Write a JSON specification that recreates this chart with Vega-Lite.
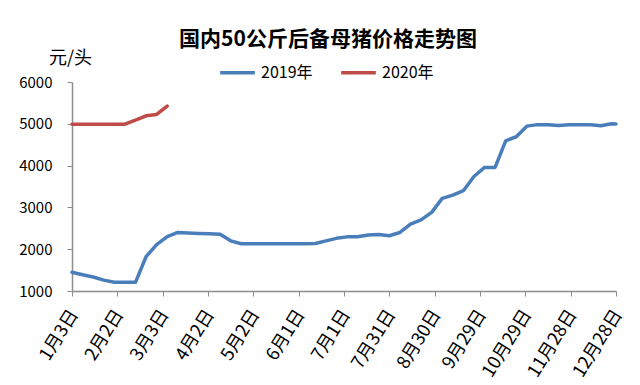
{
  "$schema": "https://vega.github.io/schema/vega-lite/v6.json",
  "width": 544,
  "height": 209,
  "autosize": {"type": "none"},
  "padding": {"left": 72, "top": 82, "right": 24, "bottom": 94},
  "background": "white",
  "title": {
    "text": "国内50公斤后备母猪价格走势图",
    "font": "Noto Sans CJK SC",
    "fontSize": 21,
    "fontWeight": "bold",
    "color": "#000000",
    "anchor": "middle",
    "dx": -16,
    "dy": 15,
    "offset": 14
  },
  "data": {
    "values": [
      {"date": "2020-01-03", "price": 1447, "series": "2019年"},
      {"date": "2020-01-10", "price": 1390, "series": "2019年"},
      {"date": "2020-01-17", "price": 1335, "series": "2019年"},
      {"date": "2020-01-24", "price": 1260, "series": "2019年"},
      {"date": "2020-01-31", "price": 1208, "series": "2019年"},
      {"date": "2020-02-07", "price": 1208, "series": "2019年"},
      {"date": "2020-02-14", "price": 1208, "series": "2019年"},
      {"date": "2020-02-21", "price": 1820, "series": "2019年"},
      {"date": "2020-02-28", "price": 2110, "series": "2019年"},
      {"date": "2020-03-06", "price": 2300, "series": "2019年"},
      {"date": "2020-03-13", "price": 2400, "series": "2019年"},
      {"date": "2020-03-20", "price": 2385, "series": "2019年"},
      {"date": "2020-03-27", "price": 2375, "series": "2019年"},
      {"date": "2020-04-03", "price": 2370, "series": "2019年"},
      {"date": "2020-04-10", "price": 2360, "series": "2019年"},
      {"date": "2020-04-17", "price": 2200, "series": "2019年"},
      {"date": "2020-04-24", "price": 2130, "series": "2019年"},
      {"date": "2020-05-01", "price": 2130, "series": "2019年"},
      {"date": "2020-05-08", "price": 2130, "series": "2019年"},
      {"date": "2020-05-15", "price": 2130, "series": "2019年"},
      {"date": "2020-05-22", "price": 2130, "series": "2019年"},
      {"date": "2020-05-29", "price": 2130, "series": "2019年"},
      {"date": "2020-06-05", "price": 2130, "series": "2019年"},
      {"date": "2020-06-12", "price": 2135, "series": "2019年"},
      {"date": "2020-06-19", "price": 2200, "series": "2019年"},
      {"date": "2020-06-26", "price": 2260, "series": "2019年"},
      {"date": "2020-07-03", "price": 2295, "series": "2019年"},
      {"date": "2020-07-10", "price": 2298, "series": "2019年"},
      {"date": "2020-07-17", "price": 2340, "series": "2019年"},
      {"date": "2020-07-24", "price": 2350, "series": "2019年"},
      {"date": "2020-07-31", "price": 2322, "series": "2019年"},
      {"date": "2020-08-07", "price": 2400, "series": "2019年"},
      {"date": "2020-08-14", "price": 2600, "series": "2019年"},
      {"date": "2020-08-21", "price": 2700, "series": "2019年"},
      {"date": "2020-08-28", "price": 2880, "series": "2019年"},
      {"date": "2020-09-04", "price": 3216, "series": "2019年"},
      {"date": "2020-09-11", "price": 3294, "series": "2019年"},
      {"date": "2020-09-18", "price": 3400, "series": "2019年"},
      {"date": "2020-09-25", "price": 3740, "series": "2019年"},
      {"date": "2020-10-02", "price": 3956, "series": "2019年"},
      {"date": "2020-10-09", "price": 3956, "series": "2019年"},
      {"date": "2020-10-16", "price": 4593, "series": "2019年"},
      {"date": "2020-10-23", "price": 4690, "series": "2019年"},
      {"date": "2020-10-30", "price": 4944, "series": "2019年"},
      {"date": "2020-11-06", "price": 4980, "series": "2019年"},
      {"date": "2020-11-13", "price": 4975, "series": "2019年"},
      {"date": "2020-11-20", "price": 4960, "series": "2019年"},
      {"date": "2020-11-27", "price": 4975, "series": "2019年"},
      {"date": "2020-12-04", "price": 4976, "series": "2019年"},
      {"date": "2020-12-11", "price": 4976, "series": "2019年"},
      {"date": "2020-12-18", "price": 4952, "series": "2019年"},
      {"date": "2020-12-25", "price": 5000, "series": "2019年"},
      {"date": "2020-12-28", "price": 4995, "series": "2019年"},
      {"date": "2020-01-03", "price": 4991, "series": "2020年"},
      {"date": "2020-01-10", "price": 4991, "series": "2020年"},
      {"date": "2020-01-17", "price": 4991, "series": "2020年"},
      {"date": "2020-01-24", "price": 4991, "series": "2020年"},
      {"date": "2020-01-31", "price": 4991, "series": "2020年"},
      {"date": "2020-02-07", "price": 4991, "series": "2020年"},
      {"date": "2020-02-14", "price": 5087, "series": "2020年"},
      {"date": "2020-02-21", "price": 5190, "series": "2020年"},
      {"date": "2020-02-28", "price": 5224, "series": "2020年"},
      {"date": "2020-03-06", "price": 5422, "series": "2020年"}
    ]
  },
  "mark": {"type": "line", "strokeWidth": 3.5, "strokeJoin": "round", "strokeCap": "round"},
  "encoding": {
    "x": {
      "field": "date",
      "type": "temporal",
      "scale": {
        "type": "utc",
        "domain": [
          {"year": 2020, "month": 1, "date": 3, "utc": true},
          {"year": 2020, "month": 12, "date": 28, "utc": true}
        ]
      },
      "axis": {
        "title": null,
        "values": [
          {"year": 2020, "month": 1, "date": 3, "utc": true},
          {"year": 2020, "month": 2, "date": 2, "utc": true},
          {"year": 2020, "month": 3, "date": 3, "utc": true},
          {"year": 2020, "month": 4, "date": 2, "utc": true},
          {"year": 2020, "month": 5, "date": 2, "utc": true},
          {"year": 2020, "month": 6, "date": 1, "utc": true},
          {"year": 2020, "month": 7, "date": 1, "utc": true},
          {"year": 2020, "month": 7, "date": 31, "utc": true},
          {"year": 2020, "month": 8, "date": 30, "utc": true},
          {"year": 2020, "month": 9, "date": 29, "utc": true},
          {"year": 2020, "month": 10, "date": 29, "utc": true},
          {"year": 2020, "month": 11, "date": 28, "utc": true},
          {"year": 2020, "month": 12, "date": 28, "utc": true}
        ],
        "labelExpr": "(utcmonth(datum.value)+1) + '月' + utcdate(datum.value) + '日'",
        "labelAngle": -58,
        "labelAlign": "right",
        "labelBaseline": "middle",
        "labelFont": "Noto Sans CJK SC",
        "labelFontSize": 18,
        "labelColor": "#000000",
        "labelPadding": 15,
        "labelOffset": 2,
        "labelOverlap": false,
        "labelFlush": false,
        "grid": false,
        "domainColor": "#8c8c8c",
        "domainWidth": 1.5,
        "tickColor": "#8c8c8c",
        "tickSize": 5,
        "tickWidth": 1
      }
    },
    "y": {
      "field": "price",
      "type": "quantitative",
      "scale": {"domain": [1000, 6000], "nice": false, "zero": false},
      "axis": {
        "title": "元/头",
        "titleAngle": 0,
        "titleFont": "Noto Sans CJK SC",
        "titleFontSize": 18,
        "titleFontWeight": "normal",
        "titleColor": "#000000",
        "titleAlign": "center",
        "titleBaseline": "middle",
        "titleX": -2,
        "titleY": -24,
        "values": [1000, 2000, 3000, 4000, 5000, 6000],
        "format": "d",
        "labelFont": "Noto Sans CJK SC",
        "labelFontSize": 15,
        "labelColor": "#000000",
        "labelPadding": 15,
        "labelFlush": false,
        "grid": false,
        "domainColor": "#8c8c8c",
        "domainWidth": 1.5,
        "tickColor": "#8c8c8c",
        "tickSize": 5,
        "tickWidth": 1
      }
    },
    "color": {
      "field": "series",
      "type": "nominal",
      "scale": {"domain": ["2019年", "2020年"], "range": ["#4A7EBB", "#BE4B48"]},
      "legend": {
        "title": null,
        "orient": "none",
        "direction": "horizontal",
        "legendX": 146,
        "legendY": -29,
        "symbolType": "stroke",
        "symbolSize": 1200,
        "symbolStrokeWidth": 3.5,
        "labelFont": "Noto Sans CJK SC",
        "labelFontSize": 16,
        "labelColor": "#000000",
        "labelOffset": 4,
        "columnPadding": 21
      }
    }
  },
  "config": {"view": {"stroke": null}}
}
